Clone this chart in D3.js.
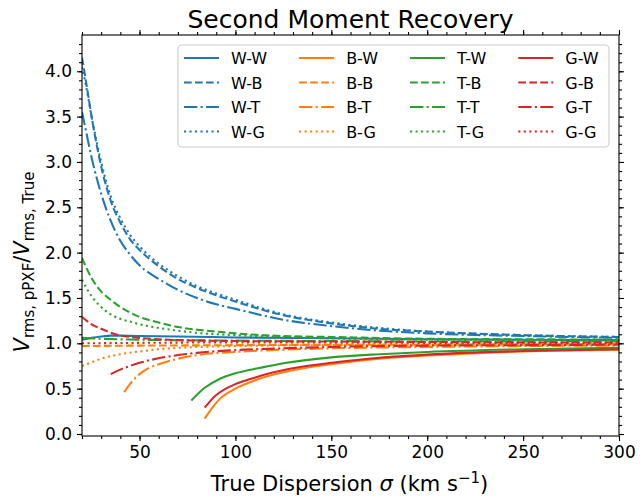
<!DOCTYPE html>
<html><head><meta charset="utf-8">
<script src="https://cdn.jsdelivr.net/npm/d3@7"></script>
<style>
html,body{margin:0;padding:0;background:#fff;}
svg{display:block;font-family:"DejaVu Sans",sans-serif;}
</style></head>
<body><svg id="chart" width="640" height="499"></svg>
<script>
// ---- data: [sigma (km/s), Vrms ratio] ----
const WW = [[20,1.04],[25,1.06],[30,1.075],[35,1.085],[40,1.085],[50,1.08],[70,1.075],[100,1.065],[150,1.055],[200,1.045],[250,1.04],[300,1.035]];
const WB = [[20,4.15],[22,3.9],[25,3.5],[30,2.95],[35,2.57],[40,2.33],[45,2.15],[50,2.03],[60,1.85],[70,1.71],[80,1.61],[90,1.53],[100,1.46],[125,1.31],[150,1.22],[175,1.16],[200,1.13],[250,1.09],[300,1.07]];
const WT = [[20,3.55],[22,3.35],[25,3.05],[30,2.65],[35,2.35],[40,2.13],[45,1.98],[50,1.86],[60,1.71],[70,1.59],[80,1.50],[90,1.43],[100,1.38],[125,1.26],[150,1.19],[175,1.14],[200,1.11],[250,1.08],[300,1.06]];
const WG = [[20,4.05],[22,3.85],[25,3.5],[30,3.0],[35,2.62],[40,2.38],[45,2.2],[50,2.07],[60,1.88],[70,1.74],[80,1.63],[90,1.55],[100,1.48],[125,1.32],[150,1.23],[175,1.17],[200,1.13],[250,1.09],[300,1.07]];
const BW = [[84,0.17],[88,0.29],[92,0.39],[100,0.50],[110,0.59],[120,0.655],[137,0.73],[150,0.77],[175,0.83],[200,0.865],[250,0.91],[300,0.93]];
const BB = [[20,0.97],[30,0.972],[50,0.975],[75,0.977],[100,0.98],[150,0.983],[200,0.985],[250,0.987],[300,0.99]];
const BT = [[42,0.46],[45,0.55],[50,0.66],[55,0.73],[60,0.77],[70,0.83],[80,0.87],[100,0.905],[125,0.93],[150,0.945],[200,0.96],[250,0.97],[300,0.975]];
const BG = [[20,0.75],[25,0.79],[30,0.83],[40,0.88],[50,0.91],[60,0.935],[75,0.955],[100,0.97],[150,0.98],[200,0.985],[250,0.99],[300,0.99]];
const TW = [[77,0.37],[84,0.51],[92,0.61],[100,0.67],[113,0.73],[125,0.78],[150,0.845],[175,0.88],[200,0.905],[250,0.935],[300,0.95]];
const TB = [[20,1.94],[25,1.72],[30,1.57],[35,1.48],[40,1.40],[45,1.34],[50,1.29],[60,1.23],[70,1.18],[80,1.15],[90,1.13],[100,1.11],[125,1.08],[150,1.07],[200,1.05],[250,1.045],[300,1.04]];
const TT = [[20,1.06],[30,1.05],[50,1.04],[100,1.03],[150,1.025],[200,1.02],[250,1.02],[300,1.02]];
const TG = [[20,1.70],[25,1.52],[30,1.40],[35,1.32],[40,1.27],[45,1.24],[50,1.21],[60,1.17],[70,1.14],[80,1.115],[90,1.10],[100,1.09],[125,1.07],[150,1.055],[200,1.04],[250,1.035],[300,1.03]];
const GW = [[84,0.29],[90,0.43],[95,0.50],[100,0.55],[110,0.62],[120,0.68],[137,0.75],[150,0.785],[175,0.84],[200,0.875],[250,0.915],[300,0.935]];
const GB = [[20,1.29],[25,1.21],[30,1.16],[40,1.085],[45,1.07],[50,1.06],[60,1.045],[80,1.03],[100,1.025],[150,1.02],[200,1.015],[250,1.01],[300,1.01]];
const GT = [[35,0.66],[40,0.71],[45,0.75],[50,0.785],[60,0.835],[80,0.895],[100,0.925],[125,0.945],[150,0.96],[200,0.975],[250,0.98],[300,0.985]];
const GG = [[20,1.0],[50,1.005],[100,1.01],[150,1.008],[200,1.005],[250,1.003],[300,1.0]];

const seriesLabels = ["W-W","W-B","W-T","W-G","B-W","B-B","B-T","B-G","T-W","T-B","T-T","T-G","G-W","G-B","G-T","G-G"];
const seriesData = [WW,WB,WT,WG,BW,BB,BT,BG,TW,TB,TT,TG,GW,GB,GT,GG];
const xTicks = [50,100,150,200,250,300];
const yTicks = [0,0.5,1,1.5,2,2.5,3,3.5,4];
const titleText = "Second Moment Recovery";

// ---- styles ----
const colors = ["#1f77b4","#ff7f0e","#2ca02c","#d62728"];
const dashes = [null,"7.7,3.3","13.3,3.3,2.1,3.3","2.1,3.4"];

const svg = d3.select("#chart");
const W = 640, H = 499;
const m = {l:82, r:619, t:35, b:436};
const x = d3.scaleLinear().domain([20,300]).range([m.l,m.r]);
const y = d3.scaleLinear().domain([-0.022,4.4]).range([m.b,m.t]);

svg.append("rect").attr("width",W).attr("height",H).attr("fill","#fff");

svg.append("defs").append("clipPath").attr("id","clip")
  .append("rect").attr("x",m.l).attr("y",m.t).attr("width",m.r-m.l).attr("height",m.b-m.t);

const line = d3.line().x(d=>x(d[0])).y(d=>y(d[1])).curve(d3.curveMonotoneX);
const gLines = svg.append("g").attr("clip-path","url(#clip)");
seriesData.forEach((d,i)=>{
  gLines.append("path").datum(d).attr("d",line)
    .attr("fill","none").attr("stroke",colors[Math.floor(i/4)])
    .attr("stroke-width",2.08)
    .attr("stroke-dasharray",dashes[i%4])
    .attr("stroke-linejoin","round");
});

// axes
const tickFont = "17px";
function styleAxis(g){
  g.select(".domain").remove();
  g.selectAll("line").attr("stroke","#000").attr("stroke-width",1.1);
  g.selectAll("text").attr("font-size",tickFont).attr("fill","#000").attr("font-family","DejaVu Sans");
}
const xMinor = d3.range(20,301,10);
const yMinor = d3.range(0,44,1).map(v=>v/10);
svg.append("g").attr("transform",`translate(0,${m.b})`)
  .call(d3.axisBottom(x).tickValues(xMinor).tickSize(3).tickFormat("")).call(styleAxis);
svg.append("g").attr("transform",`translate(0,${m.b})`)
  .call(d3.axisBottom(x).tickValues(xTicks).tickSize(5).tickPadding(5).tickFormat(d3.format("d"))).call(styleAxis);
svg.append("g").attr("transform",`translate(0,${m.t})`)
  .call(d3.axisTop(x).tickValues(xMinor).tickSize(3).tickFormat("")).call(styleAxis);
svg.append("g").attr("transform",`translate(0,${m.t})`)
  .call(d3.axisTop(x).tickValues(xTicks).tickSize(5).tickFormat("")).call(styleAxis);
svg.append("g").attr("transform",`translate(${m.l},0)`)
  .call(d3.axisLeft(y).tickValues(yMinor).tickSize(3).tickFormat("")).call(styleAxis);
svg.append("g").attr("transform",`translate(${m.l},0)`)
  .call(d3.axisLeft(y).tickValues(yTicks).tickSize(5).tickPadding(5).tickFormat(d3.format(".1f"))).call(styleAxis);
svg.append("g").attr("transform",`translate(${m.r},0)`)
  .call(d3.axisRight(y).tickValues(yMinor).tickSize(3).tickFormat("")).call(styleAxis);
svg.append("g").attr("transform",`translate(${m.r},0)`)
  .call(d3.axisRight(y).tickValues(yTicks).tickSize(5).tickFormat("")).call(styleAxis);

svg.append("rect").attr("x",m.l).attr("y",m.t).attr("width",m.r-m.l).attr("height",m.b-m.t)
  .attr("fill","none").attr("stroke","#000").attr("stroke-width",1.1);

// title
svg.append("text").attr("x",(m.l+m.r)/2).attr("y",28).attr("text-anchor","middle")
  .attr("font-size","25px").attr("fill","#000").text(titleText);

// x label
const xl = svg.append("text").attr("x",(m.l+m.r)/2 - 1).attr("y",491).attr("text-anchor","middle")
  .attr("font-size","21px").attr("fill","#000");
xl.append("tspan").text("True Dispersion ");
xl.append("tspan").attr("font-style","italic").text("σ");
xl.append("tspan").text(" (km s");
xl.append("tspan").attr("font-size","15px").attr("dy",-8).text("−1");
xl.append("tspan").attr("dy",8).text(")");

// y label
const yl = svg.append("text").attr("transform",`translate(29,262) rotate(-90)`)
  .attr("text-anchor","middle").attr("font-size","21px").attr("fill","#000");
yl.append("tspan").attr("font-style","italic").text("V");
yl.append("tspan").attr("font-size","15px").attr("dy",5).text("rms, pPXF");
yl.append("tspan").attr("dy",-5).text("/");
yl.append("tspan").attr("font-style","italic").text("V");
yl.append("tspan").attr("font-size","15px").attr("dy",5).text("rms, True");

// legend
const lg = svg.append("g");
lg.append("rect").attr("x",178).attr("y",45).attr("width",431).attr("height",102)
  .attr("rx",4).attr("fill","#fff").attr("fill-opacity",0.8).attr("stroke","#cccccc").attr("stroke-width",1.1);
const handleLen = 35, handlePad = 12, colSpace = 32;
const rowY = [58,82.5,107,131.5];
let cx = 184;
for(let c=0;c<4;c++){
  let maxW = 0;
  for(let r=0;r<4;r++){
    const i = c*4+r;
    lg.append("line").attr("x1",cx).attr("x2",cx+handleLen).attr("y1",rowY[r]).attr("y2",rowY[r])
      .attr("stroke",colors[c]).attr("stroke-width",2.08).attr("stroke-dasharray",dashes[r]);
    const t = lg.append("text").attr("x",cx+handleLen+handlePad).attr("y",rowY[r]+6)
      .attr("font-size","16px").attr("fill","#000").text(seriesLabels[i]);
    maxW = Math.max(maxW, t.node().getComputedTextLength());
  }
  cx += handleLen + handlePad + maxW + colSpace;
}
</script></body></html>
